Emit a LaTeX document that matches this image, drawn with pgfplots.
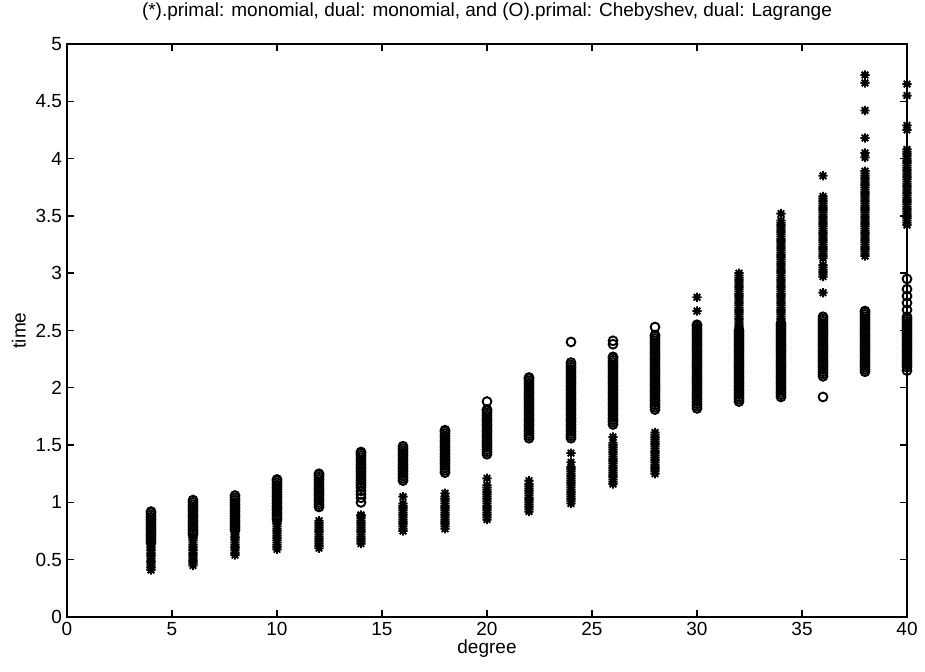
\documentclass[border=0pt]{standalone}
\usepackage{fontspec}
\setmainfont{Liberation Sans}
\usepackage{pgfplots}
\pgfplotsset{compat=1.18}

% eight-armed asterisk (plus and cross laid over each other)
\pgfdeclareplotmark{mstar}{%
  \pgfpathmoveto{\pgfqpoint{-\pgfplotmarksize}{0pt}}%
  \pgfpathlineto{\pgfqpoint{\pgfplotmarksize}{0pt}}%
  \pgfpathmoveto{\pgfqpoint{0pt}{-\pgfplotmarksize}}%
  \pgfpathlineto{\pgfqpoint{0pt}{\pgfplotmarksize}}%
  \pgfpathmoveto{\pgfqpoint{-.707\pgfplotmarksize}{-.707\pgfplotmarksize}}%
  \pgfpathlineto{\pgfqpoint{.707\pgfplotmarksize}{.707\pgfplotmarksize}}%
  \pgfpathmoveto{\pgfqpoint{-.707\pgfplotmarksize}{.707\pgfplotmarksize}}%
  \pgfpathlineto{\pgfqpoint{.707\pgfplotmarksize}{-.707\pgfplotmarksize}}%
  \pgfusepathqstroke}

\begin{document}
\begin{tikzpicture}
\begin{axis}[
  scale only axis,
  width=420pt, height=286.5pt,
  xmin=0, xmax=40, ymin=0, ymax=5,
  xtick={0,5,...,40},
  ytick={0,0.5,...,5},
  tick align=inside,
  major tick length=3.5pt,
  axis line style={line width=0.7pt},
  every tick/.style={line width=0.7pt, black},
  /pgf/number format/assume math mode=true,
  tick label style={font=\fontsize{9.5}{11}\selectfont},
  xticklabel style={yshift=1pt},
  yticklabel style={xshift=1pt},
  title={(*).primal: monomial, dual: monomial, and (O).primal: Chebyshev, dual: Lagrange},
  title style={font=\fontsize{9.5}{11}\selectfont, at={(0.5,1)}, anchor=south, yshift=2pt},
  xlabel={degree},
  ylabel={time},
  label style={font=\fontsize{9.5}{11}\selectfont},
  xlabel style={yshift=5pt},
  ylabel style={yshift=-2pt},
]
% (*) primal: monomial, dual: monomial
\addplot[only marks, mark=mstar, mark size=2.3pt, line width=0.95pt, black] coordinates {
(4,0.41)(4,0.43)(4,0.44)(4,0.46)(4,0.48)(4,0.49)(4,0.51)(4,0.53)(4,0.54)(4,0.56)(4,0.58)(4,0.59)(4,0.61)(4,0.63)(4,0.65)
(6,0.45)(6,0.47)(6,0.49)(6,0.50)(6,0.52)(6,0.54)(6,0.56)(6,0.58)(6,0.59)(6,0.61)(6,0.63)(6,0.65)(6,0.67)(6,0.69)(6,0.70)
(8,0.54)(8,0.56)(8,0.58)(8,0.60)(8,0.61)(8,0.63)(8,0.65)(8,0.67)(8,0.69)(8,0.70)(8,0.72)(8,0.74)(8,0.76)
(10,0.59)(10,0.61)(10,0.63)(10,0.65)(10,0.67)(10,0.69)(10,0.71)(10,0.73)(10,0.75)(10,0.77)(10,0.79)(10,0.81)(10,0.83)(10,0.84)
(12,0.60)(12,0.62)(12,0.64)(12,0.66)(12,0.68)(12,0.70)(12,0.72)(12,0.74)(12,0.76)(12,0.78)(12,0.80)(12,0.82)(12,0.84)
(14,0.64)(14,0.66)(14,0.68)(14,0.70)(14,0.72)(14,0.74)(14,0.76)(14,0.78)(14,0.80)(14,0.82)(14,0.84)(14,0.86)(14,0.88)(14,0.89)
(16,0.75)(16,0.77)(16,0.79)(16,0.81)(16,0.83)(16,0.85)(16,0.87)(16,0.89)(16,0.91)(16,0.93)(16,0.95)(16,0.97)(16,0.99)(16,1.05)
(18,0.77)(18,0.79)(18,0.81)(18,0.83)(18,0.85)(18,0.87)(18,0.89)(18,0.91)(18,0.93)(18,0.95)(18,0.97)(18,0.99)(18,1.01)(18,1.03)(18,1.05)(18,1.08)
(20,0.85)(20,0.87)(20,0.89)(20,0.91)(20,0.93)(20,0.95)(20,0.97)(20,0.99)(20,1.01)(20,1.03)(20,1.05)(20,1.07)(20,1.09)(20,1.11)(20,1.13)(20,1.15)(20,1.21)
(22,0.92)(22,0.94)(22,0.96)(22,0.98)(22,1.00)(22,1.02)(22,1.04)(22,1.06)(22,1.08)(22,1.10)(22,1.12)(22,1.14)(22,1.16)(22,1.19)
(24,0.99)(24,1.01)(24,1.03)(24,1.05)(24,1.07)(24,1.09)(24,1.11)(24,1.13)(24,1.15)(24,1.17)(24,1.19)(24,1.21)(24,1.23)(24,1.25)(24,1.27)(24,1.29)(24,1.31)(24,1.35)(24,1.43)
(26,1.16)(26,1.18)(26,1.20)(26,1.22)(26,1.24)(26,1.26)(26,1.28)(26,1.30)(26,1.32)(26,1.34)(26,1.36)(26,1.38)(26,1.40)(26,1.42)(26,1.44)(26,1.46)(26,1.48)(26,1.50)(26,1.52)(26,1.57)
(28,1.25)(28,1.27)(28,1.29)(28,1.31)(28,1.33)(28,1.35)(28,1.37)(28,1.39)(28,1.41)(28,1.43)(28,1.45)(28,1.47)(28,1.49)(28,1.51)(28,1.53)(28,1.55)(28,1.57)(28,1.59)(28,1.61)
(30,2.05)(30,2.08)(30,2.11)(30,2.14)(30,2.17)(30,2.20)(30,2.23)(30,2.26)(30,2.29)(30,2.32)(30,2.35)(30,2.38)(30,2.41)(30,2.44)(30,2.47)(30,2.50)(30,2.53)(30,2.67)(30,2.79)
(32,2.10)(32,2.12)(32,2.14)(32,2.16)(32,2.18)(32,2.20)(32,2.22)(32,2.24)(32,2.26)(32,2.28)(32,2.30)(32,2.32)(32,2.34)(32,2.36)(32,2.38)(32,2.40)(32,2.42)(32,2.44)(32,2.46)(32,2.48)
(32,2.50)(32,2.52)(32,2.54)(32,2.56)(32,2.58)(32,2.60)(32,2.62)(32,2.64)(32,2.66)(32,2.68)(32,2.70)(32,2.72)(32,2.74)(32,2.76)(32,2.78)(32,2.80)(32,2.82)(32,2.84)(32,2.86)(32,2.88)
(32,2.90)(32,2.92)(32,2.94)(32,2.96)(32,2.98)(32,3.00)
(34,2.10)(34,2.12)(34,2.14)(34,2.16)(34,2.18)(34,2.20)(34,2.22)(34,2.24)(34,2.26)(34,2.28)(34,2.30)(34,2.32)(34,2.34)(34,2.36)(34,2.38)(34,2.40)(34,2.42)(34,2.44)(34,2.46)(34,2.48)
(34,2.50)(34,2.52)(34,2.54)(34,2.56)(34,2.58)(34,2.60)(34,2.62)(34,2.64)(34,2.66)(34,2.68)(34,2.70)(34,2.72)(34,2.74)(34,2.76)(34,2.78)(34,2.80)(34,2.82)(34,2.84)(34,2.86)(34,2.88)
(34,2.90)(34,2.92)(34,2.94)(34,2.96)(34,2.98)(34,3.00)(34,3.02)(34,3.04)(34,3.06)(34,3.08)(34,3.10)(34,3.12)(34,3.14)(34,3.16)(34,3.18)(34,3.20)(34,3.22)(34,3.24)(34,3.26)(34,3.28)
(34,3.30)(34,3.32)(34,3.34)(34,3.36)(34,3.38)(34,3.40)(34,3.42)(34,3.44)(34,3.46)(34,3.52)
(36,2.83)(36,2.97)(36,2.99)(36,3.01)(36,3.03)(36,3.05)(36,3.07)(36,3.13)(36,3.15)(36,3.17)(36,3.19)(36,3.21)(36,3.23)(36,3.25)(36,3.27)(36,3.29)(36,3.31)(36,3.33)(36,3.35)(36,3.37)
(36,3.39)(36,3.41)(36,3.43)(36,3.45)(36,3.47)(36,3.49)(36,3.51)(36,3.53)(36,3.55)(36,3.57)(36,3.59)(36,3.61)(36,3.63)(36,3.65)(36,3.67)(36,3.85)
(38,3.15)(38,3.17)(38,3.19)(38,3.21)(38,3.23)(38,3.25)(38,3.27)(38,3.29)(38,3.31)(38,3.33)(38,3.35)(38,3.37)(38,3.39)(38,3.41)(38,3.43)(38,3.45)(38,3.47)(38,3.49)(38,3.51)(38,3.53)
(38,3.55)(38,3.57)(38,3.59)(38,3.61)(38,3.63)(38,3.65)(38,3.67)(38,3.69)(38,3.71)(38,3.73)(38,3.75)(38,3.77)(38,3.79)(38,3.81)(38,3.83)(38,3.85)(38,3.87)(38,3.89)
(38,4.01)(38,4.05)(38,4.18)(38,4.42)(38,4.66)(38,4.73)
(40,3.42)(40,3.44)(40,3.46)(40,3.48)(40,3.50)(40,3.52)(40,3.54)(40,3.56)(40,3.58)(40,3.60)(40,3.62)(40,3.64)(40,3.66)(40,3.68)(40,3.70)(40,3.72)(40,3.74)(40,3.76)(40,3.78)(40,3.80)
(40,3.82)(40,3.84)(40,3.86)(40,3.88)(40,3.90)(40,3.92)(40,3.94)(40,3.96)(40,3.98)(40,4.00)(40,4.02)(40,4.04)(40,4.06)(40,4.08)
(40,4.25)(40,4.29)(40,4.55)(40,4.65)
};
% (O) primal: Chebyshev, dual: Lagrange
\addplot[only marks, mark=o, mark size=2.2pt, line width=0.95pt, black] coordinates {
(4,0.65)(4,0.67)(4,0.69)(4,0.71)(4,0.73)(4,0.75)(4,0.77)(4,0.79)(4,0.81)(4,0.83)(4,0.85)(4,0.87)(4,0.89)(4,0.91)(4,0.92)
(6,0.72)(6,0.74)(6,0.76)(6,0.78)(6,0.80)(6,0.82)(6,0.84)(6,0.86)(6,0.88)(6,0.90)(6,0.92)(6,0.94)(6,0.96)(6,0.98)(6,1.00)(6,1.02)
(8,0.76)(8,0.78)(8,0.80)(8,0.82)(8,0.84)(8,0.86)(8,0.88)(8,0.90)(8,0.92)(8,0.94)(8,0.96)(8,0.98)(8,1.00)(8,1.02)(8,1.04)(8,1.06)
(10,0.85)(10,0.87)(10,0.89)(10,0.91)(10,0.93)(10,0.95)(10,0.97)(10,0.99)(10,1.01)(10,1.03)(10,1.05)(10,1.07)(10,1.09)(10,1.11)(10,1.13)(10,1.15)(10,1.17)(10,1.19)(10,1.20)
(12,0.96)(12,0.98)(12,1.00)(12,1.02)(12,1.04)(12,1.06)(12,1.08)(12,1.10)(12,1.12)(12,1.14)(12,1.16)(12,1.18)(12,1.20)(12,1.22)(12,1.24)(12,1.25)
(14,1.00)(14,1.04)(14,1.07)(14,1.10)(14,1.13)(14,1.15)(14,1.17)(14,1.19)(14,1.21)(14,1.23)(14,1.25)(14,1.27)(14,1.29)(14,1.31)(14,1.33)(14,1.35)(14,1.37)(14,1.39)(14,1.41)(14,1.43)(14,1.44)
(16,1.19)(16,1.21)(16,1.23)(16,1.25)(16,1.27)(16,1.29)(16,1.31)(16,1.33)(16,1.35)(16,1.37)(16,1.39)(16,1.41)(16,1.43)(16,1.45)(16,1.47)(16,1.49)
(18,1.26)(18,1.28)(18,1.30)(18,1.32)(18,1.34)(18,1.36)(18,1.38)(18,1.40)(18,1.42)(18,1.44)(18,1.46)(18,1.48)(18,1.50)(18,1.52)(18,1.54)(18,1.56)(18,1.58)(18,1.60)(18,1.62)(18,1.63)
(20,1.42)(20,1.44)(20,1.46)(20,1.48)(20,1.50)(20,1.52)(20,1.54)(20,1.56)(20,1.58)(20,1.60)(20,1.62)(20,1.64)(20,1.66)(20,1.68)(20,1.70)(20,1.72)(20,1.74)(20,1.76)(20,1.78)(20,1.80)(20,1.81)(20,1.88)
(22,1.56)(22,1.58)(22,1.60)(22,1.62)(22,1.64)(22,1.66)(22,1.68)(22,1.70)(22,1.72)(22,1.74)(22,1.76)(22,1.78)(22,1.80)(22,1.82)(22,1.84)(22,1.86)(22,1.88)(22,1.90)(22,1.92)(22,1.94)
(22,1.96)(22,1.98)(22,2.00)(22,2.02)(22,2.04)(22,2.06)(22,2.08)(22,2.09)
(24,1.56)(24,1.58)(24,1.60)(24,1.62)(24,1.64)(24,1.66)(24,1.68)(24,1.70)(24,1.72)(24,1.74)(24,1.76)(24,1.78)(24,1.80)(24,1.82)(24,1.84)(24,1.86)(24,1.88)(24,1.90)(24,1.92)(24,1.94)
(24,1.96)(24,1.98)(24,2.00)(24,2.02)(24,2.04)(24,2.06)(24,2.08)(24,2.10)(24,2.12)(24,2.14)(24,2.16)(24,2.18)(24,2.20)(24,2.22)(24,2.40)
(26,1.68)(26,1.70)(26,1.72)(26,1.74)(26,1.76)(26,1.78)(26,1.80)(26,1.82)(26,1.84)(26,1.86)(26,1.88)(26,1.90)(26,1.92)(26,1.94)(26,1.96)(26,1.98)(26,2.00)(26,2.02)(26,2.04)(26,2.06)
(26,2.08)(26,2.10)(26,2.12)(26,2.14)(26,2.16)(26,2.18)(26,2.20)(26,2.22)(26,2.24)(26,2.26)(26,2.27)(26,2.38)(26,2.41)
(28,1.81)(28,1.83)(28,1.85)(28,1.87)(28,1.89)(28,1.91)(28,1.93)(28,1.95)(28,1.97)(28,1.99)(28,2.01)(28,2.03)(28,2.05)(28,2.07)(28,2.09)(28,2.11)(28,2.13)(28,2.15)(28,2.17)(28,2.19)
(28,2.21)(28,2.23)(28,2.25)(28,2.27)(28,2.29)(28,2.31)(28,2.33)(28,2.35)(28,2.37)(28,2.39)(28,2.41)(28,2.43)(28,2.45)(28,2.46)(28,2.53)
(30,1.82)(30,1.84)(30,1.86)(30,1.88)(30,1.90)(30,1.92)(30,1.94)(30,1.96)(30,1.98)(30,2.00)(30,2.02)(30,2.04)(30,2.06)(30,2.08)(30,2.10)(30,2.12)(30,2.14)(30,2.16)(30,2.18)(30,2.20)
(30,2.22)(30,2.24)(30,2.26)(30,2.28)(30,2.30)(30,2.32)(30,2.34)(30,2.36)(30,2.38)(30,2.40)(30,2.42)(30,2.44)(30,2.46)(30,2.48)(30,2.50)(30,2.52)(30,2.54)(30,2.55)
(32,1.88)(32,1.90)(32,1.92)(32,1.94)(32,1.96)(32,1.98)(32,2.00)(32,2.02)(32,2.04)(32,2.06)(32,2.08)(32,2.10)(32,2.12)(32,2.14)(32,2.16)(32,2.18)(32,2.20)(32,2.22)(32,2.24)(32,2.26)
(32,2.28)(32,2.30)(32,2.32)(32,2.34)(32,2.36)(32,2.38)(32,2.40)(32,2.42)(32,2.44)(32,2.46)(32,2.48)(32,2.50)
(34,1.92)(34,1.94)(34,1.96)(34,1.98)(34,2.00)(34,2.02)(34,2.04)(34,2.06)(34,2.08)(34,2.10)(34,2.12)(34,2.14)(34,2.16)(34,2.18)(34,2.20)(34,2.22)(34,2.24)(34,2.26)(34,2.28)(34,2.30)
(34,2.32)(34,2.34)(34,2.36)(34,2.38)(34,2.40)(34,2.42)(34,2.44)(34,2.46)(34,2.48)(34,2.50)(34,2.52)(34,2.54)(34,2.56)
(36,1.92)(36,2.10)(36,2.12)(36,2.14)(36,2.16)(36,2.18)(36,2.20)(36,2.22)(36,2.24)(36,2.26)(36,2.28)(36,2.30)(36,2.32)(36,2.34)(36,2.36)(36,2.38)(36,2.40)(36,2.42)(36,2.44)(36,2.46)
(36,2.48)(36,2.50)(36,2.52)(36,2.54)(36,2.56)(36,2.58)(36,2.60)(36,2.62)
(38,2.14)(38,2.16)(38,2.18)(38,2.20)(38,2.22)(38,2.24)(38,2.26)(38,2.28)(38,2.30)(38,2.32)(38,2.34)(38,2.36)(38,2.38)(38,2.40)(38,2.42)(38,2.44)(38,2.46)(38,2.48)(38,2.50)(38,2.52)
(38,2.54)(38,2.56)(38,2.58)(38,2.60)(38,2.62)(38,2.64)(38,2.66)(38,2.67)
(40,2.15)(40,2.18)(40,2.20)(40,2.22)(40,2.24)(40,2.26)(40,2.28)(40,2.30)(40,2.32)(40,2.34)(40,2.36)(40,2.38)(40,2.40)(40,2.42)(40,2.44)(40,2.46)(40,2.48)(40,2.50)(40,2.52)(40,2.54)
(40,2.56)(40,2.58)(40,2.60)(40,2.62)(40,2.68)(40,2.74)(40,2.80)(40,2.86)(40,2.95)
};
\end{axis}
% frame the page to the figure's margins round the plot box
\pgfresetboundingbox
\path ([xshift=-33.5pt,yshift=-27.5pt]current axis.south west)
  rectangle ([xshift=9pt,yshift=22pt]current axis.north east);
\end{tikzpicture}
\end{document}
